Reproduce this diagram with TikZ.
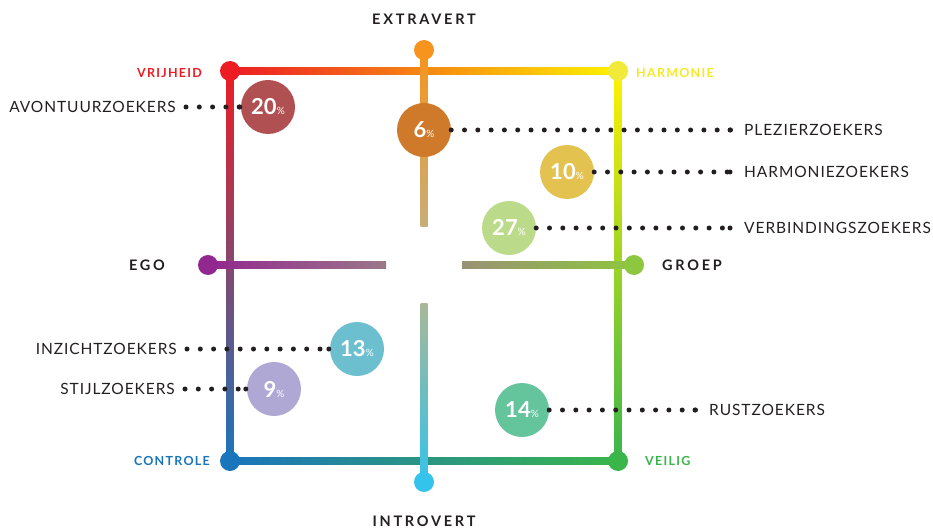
\documentclass[tikz,border=0pt]{standalone}
\usepackage{fontspec}
\setmainfont{Lato}
\newfontfamily\labfont[LetterSpace=6]{Lato}
\newfontfamily\axisfont[LetterSpace=19]{Lato}
\newfontfamily\polefont[LetterSpace=10]{Lato}
\usetikzlibrary{calc}
\definecolor{cRed}{HTML}{ED1C24}
\definecolor{cOra}{HTML}{F7941D}
\definecolor{cYel}{HTML}{FFF200}
\definecolor{cYelDot}{HTML}{F2EA3A}
\definecolor{cHarm}{HTML}{F5E82A}
\definecolor{cBlue}{HTML}{1B75BC}
\definecolor{cGreen}{HTML}{39B54A}
\definecolor{cTeal}{HTML}{25908F}
\definecolor{cMauve}{HTML}{9E5878}
\definecolor{cYG}{HTML}{A8CE38}
\definecolor{cTan}{HTML}{C8AE78}
\definecolor{cGrayG}{HTML}{A8B898}
\definecolor{cCyan}{HTML}{34C3EA}
\definecolor{cPurp}{HTML}{92278F}
\definecolor{cPurpG}{HTML}{9A7888}
\definecolor{cOliv}{HTML}{9A9274}
\definecolor{cLime}{HTML}{8DC63F}
\definecolor{cInk}{HTML}{231F20}
\definecolor{c20}{HTML}{B05052}
\definecolor{c6}{HTML}{CF7A2A}
\definecolor{c10}{HTML}{E3C250}
\definecolor{c27}{HTML}{BCDB8A}
\definecolor{c13}{HTML}{6BBFCF}
\definecolor{c9}{HTML}{B0A8D4}
\definecolor{c14}{HTML}{64C49C}
\begin{document}
\begin{tikzpicture}[x=1pt,y=-1pt,
  enddot/.style={circle,inner sep=0pt,minimum size=20pt,fill=#1},
  bubble/.style={circle,inner sep=0pt,minimum size=54pt,fill=#1,text=white},
  lab/.style={inner sep=0pt,text=cInk,font=\labfont\fontsize{15.5}{15.5}\selectfont},
  axislab/.style={inner sep=0pt,text=cInk,font=\axisfont\bfseries\fontsize{14.5}{14.5}\selectfont},
  polelab/.style={inner sep=0pt,text=#1,font=\polefont\bfseries\fontsize{12.5}{12.5}\selectfont},
  dots/.style={line width=5pt,line cap=round,dash pattern=on 0pt off 13.3pt,cInk},
  leaddot/.style={circle,inner sep=0pt,minimum size=5pt,fill=cInk}
]
\useasboundingbox (0,0) rectangle (933,529);
% key points
\coordinate (TL) at (230,71);
\coordinate (TR) at (618,71);
\coordinate (BL) at (230,461);
\coordinate (BR) at (618,461);
\coordinate (EX) at (424,50);
\coordinate (EXe) at (424,227);
\coordinate (INs) at (424,303);
\coordinate (IN) at (424,482);
\coordinate (EG) at (208,265);
\coordinate (EGe) at (386,265);
\coordinate (GRs) at (462,265);
\coordinate (GR) at (634,265);
% square edges
\shade[left color=cRed,middle color=cOra,right color=cYel] ($(TL)+(0,-3.5)$) rectangle ($(TR)+(0,3.5)$);
\shade[left color=cBlue,middle color=cTeal,right color=cGreen] ($(BL)+(0,-3.5)$) rectangle ($(BR)+(0,3.5)$);
\shade[top color=cRed,middle color=cMauve,bottom color=cBlue] ($(TL)+(-3.5,0)$) rectangle ($(BL)+(3.5,0)$);
\shade[top color=cYel,middle color=cYG,bottom color=cGreen] ($(TR)+(-3.5,0)$) rectangle ($(BR)+(3.5,0)$);
% axes
\shade[left color=cPurp,right color=cPurpG] ($(EG)+(0,-3.5)$) rectangle ($(EGe)+(0,3.5)$);
\shade[left color=cOliv,right color=cLime] ($(GRs)+(0,-3.5)$) rectangle ($(GR)+(0,3.5)$);
\shade[top color=cOra,bottom color=cTan] ($(EX)+(-3.5,0)$) rectangle ($(EXe)+(3.5,0)$);
\shade[top color=cGrayG,bottom color=cCyan] ($(INs)+(-3.5,0)$) rectangle ($(IN)+(3.5,0)$);
% end dots
\node[enddot=cRed] (dTL) at (TL) {};
\node[enddot=cYelDot] (dTR) at (TR) {};
\node[enddot=cBlue] (dBL) at (BL) {};
\node[enddot=cGreen] (dBR) at (BR) {};
\node[enddot=cOra] (dEX) at (EX) {};
\node[enddot=cCyan] (dIN) at (IN) {};
\node[enddot=cPurp] (dEG) at (EG) {};
\node[enddot=cLime] (dGR) at (GR) {};
% axis labels
\node[axislab] (tEX) at (424,19) {EXTRAVERT};
\node[axislab] (tIN) at (424,521) {INTROVERT};
\node[axislab] (tEG) at (147,265) {EGO};
\node[axislab,anchor=west] (tGR) at (662,265) {GROEP};
% pole labels
\node[polelab=cRed,anchor=east] (tVR) at (202,73) {VRIJHEID};
\node[polelab=cHarm,anchor=west] (tHA) at (636,73) {HARMONIE};
\node[polelab=cBlue,anchor=east] (tCO) at (210,461) {CONTROLE};
\node[polelab=cGreen,anchor=west] (tVE) at (645,461) {VEILIG};
% bubbles
\newcommand{\pct}[1]{{\bfseries\fontsize{22}{22}\selectfont #1}{\fontsize{10}{10}\selectfont\%}}
\node[bubble=c20] (b20) at (268,107) {\pct{20}};
\node[bubble=c6] (b6) at (424,130) {\pct{6}};
\node[bubble=c10] (b10) at (567,172) {\pct{10}};
\node[bubble=c27] (b27) at (509,228) {\pct{27}};
\node[bubble=c13] (b13) at (357,349) {\pct{13}};
\node[bubble=c9] (b9) at (274,389) {\pct{9}};
\node[bubble=c14] (b14) at (522,410) {\pct{14}};
% group labels
\node[lab,anchor=east] (lAV) at (176,107) {AVONTUURZOEKERS};
\node[lab,anchor=west] (lPL) at (744,130) {PLEZIERZOEKERS};
\node[lab,anchor=west] (lHA) at (744,172) {HARMONIEZOEKERS};
\node[lab,anchor=west] (lVE) at (744,228) {VERBINDINGSZOEKERS};
\node[lab,anchor=east] (lIN) at (177,349) {INZICHTZOEKERS};
\node[lab,anchor=east] (lST) at (175,389) {STIJLZOEKERS};
\node[lab,anchor=west] (lRU) at (709,410) {RUSTZOEKERS};
% dotted leaders
\draw[dots,shorten <=10pt] (lAV.east) -- (b20.west);
\draw[dots,shorten <=10pt] (lIN.east) -- (b13.west);
\draw[dots,shorten <=10pt] (lST.east) -- (b9.west);
\draw[dots,shorten >=13pt] (b6.east) -- (lPL.west);
\draw[dots,shorten >=13pt] (b10.east) -- (lHA.west);
\draw[dots,shorten >=13pt] (b27.east) -- (lVE.west);
\draw[dots,shorten >=13pt] (b14.east) -- (lRU.west);
\node[leaddot] (eAV) at ($(b20.west)+(-1,0)$) {};
\node[leaddot] (eIN) at ($(b13.west)+(-1,0)$) {};
\node[leaddot] (eST) at ($(b9.west)+(-1,0)$) {};
\node[leaddot] (ePL) at ($(lPL.west)+(-14,0)$) {};
\node[leaddot] (eHA) at ($(lHA.west)+(-14,0)$) {};
\node[leaddot] (eVE) at ($(lVE.west)+(-14,0)$) {};
\node[leaddot] (eRU) at ($(lRU.west)+(-14,0)$) {};
\end{tikzpicture}
\end{document}
